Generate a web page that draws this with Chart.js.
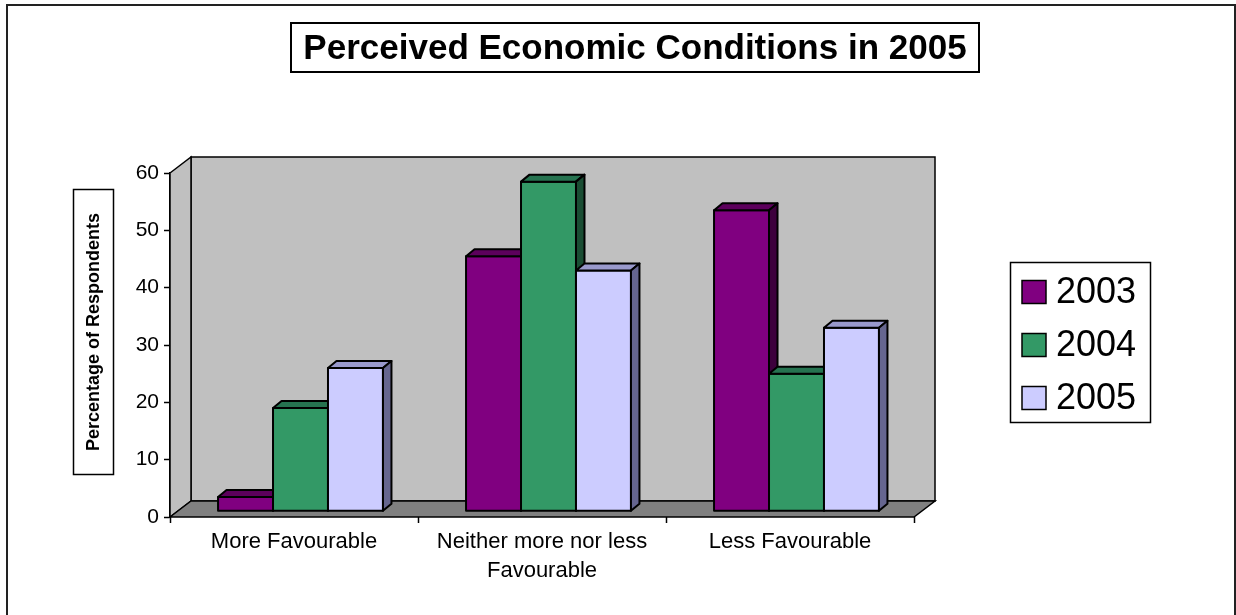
<!DOCTYPE html>
<html>
<head>
<meta charset="utf-8">
<title>Perceived Economic Conditions in 2005</title>
<script src="https://cdn.jsdelivr.net/npm/chart.js@4"></script>
<style>
  body { margin: 0; background: #fff; }
  canvas { display: block; }
</style>
</head>
<body>
<canvas id="myChart" width="1236" height="615"></canvas>
<script>
var categories = ["More Favourable", ["Neither more nor less", "Favourable"], "Less Favourable"];
var years = ["2003", "2004", "2005"];
var values2003 = [2.5, 44.5, 52.5];
var values2004 = [18, 57.5, 24];
var values2005 = [25, 42, 32];
var yTicks = [0, 10, 20, 30, 40, 50, 60];

var chartTitle = "Perceived Economic Conditions in 2005";
var yTitle = "Percentage of Respondents";

// front, top and side colours of each series
var faces = [
  { front: "#800080", top: "#5c005c", side: "#3d003d" },
  { front: "#339966", top: "#267350", side: "#1a4d33" },
  { front: "#ccccff", top: "#9999cc", side: "#666690" }
];

var FONT = "'Liberation Sans', Arial, sans-serif";
// depth of the walls and floor
var WALL_DX = 21, WALL_DY = -16;
// where the bars sit inside that depth
var BAR_OX = 6.5, BAR_OY = -5.7, BAR_DX = 8.5, BAR_DY = -7;

function poly(ctx, pts, fill) {
  ctx.beginPath();
  ctx.moveTo(pts[0][0], pts[0][1]);
  for (var i = 1; i < pts.length; i++) {
    ctx.lineTo(pts[i][0], pts[i][1]);
  }
  ctx.closePath();
  ctx.fillStyle = fill;
  ctx.fill();
  ctx.stroke();
}

var walls = {
  id: "walls",
  beforeDatasetsDraw: function(chart) {
    var ctx = chart.ctx;
    var a = chart.chartArea;
    var y = chart.scales.y;
    var top = y.getPixelForValue(60), bottom = y.getPixelForValue(0);
    ctx.save();
    ctx.strokeStyle = "#000";
    ctx.lineWidth = 1.5;
    // back wall
    poly(ctx, [[a.left + WALL_DX, top + WALL_DY], [a.right + WALL_DX, top + WALL_DY],
      [a.right + WALL_DX, bottom + WALL_DY], [a.left + WALL_DX, bottom + WALL_DY]], "#c0c0c0");
    // side wall
    poly(ctx, [[a.left, top], [a.left + WALL_DX, top + WALL_DY],
      [a.left + WALL_DX, bottom + WALL_DY], [a.left, bottom]], "#c0c0c0");
    // floor
    poly(ctx, [[a.left, bottom], [a.left + WALL_DX, bottom + WALL_DY],
      [a.right + WALL_DX, bottom + WALL_DY], [a.right, bottom]], "#808080");

    // boxes, left to right so neighbours cover the side faces
    ctx.lineWidth = 2;
    ctx.lineJoin = "round";
    var n = chart.data.labels.length;
    for (var i = 0; i < n; i++) {
      for (var d = 0; d < chart.data.datasets.length; d++) {
        var bar = chart.getDatasetMeta(d).data[i];
        var p = bar.getProps(["x", "y", "base", "width"], true);
        var l = p.x - p.width / 2 + BAR_OX, r = p.x + p.width / 2 + BAR_OX;
        var t = p.y + BAR_OY, b = p.base + BAR_OY;
        var f = faces[d];
        poly(ctx, [[l, t], [r, t], [r, b], [l, b]], f.front);
        poly(ctx, [[l, t], [l + BAR_DX, t + BAR_DY], [r + BAR_DX, t + BAR_DY], [r, t]], f.top);
        poly(ctx, [[r, t], [r + BAR_DX, t + BAR_DY], [r + BAR_DX, b + BAR_DY], [r, b]], f.side);
      }
    }
    ctx.restore();
    return false;
  }
};

var frames = {
  id: "frames",
  afterDraw: function(chart) {
    var ctx = chart.ctx;
    ctx.save();
    ctx.strokeStyle = "#222";
    ctx.lineWidth = 2;
    ctx.strokeRect(7, 5, 1228, 620);

    // title box
    ctx.strokeStyle = "#000";
    ctx.lineWidth = 2;
    ctx.strokeRect(291, 23, 688, 49);
    ctx.fillStyle = "#000";
    ctx.font = "bold 35px " + FONT;
    ctx.textAlign = "center";
    ctx.textBaseline = "middle";
    ctx.fillText(chartTitle, 635, 49);

    // axis title box
    ctx.lineWidth = 1.5;
    ctx.strokeRect(73.5, 189.5, 40, 285);
    ctx.save();
    ctx.translate(94, 332);
    ctx.rotate(-Math.PI / 2);
    ctx.font = "bold 18px " + FONT;
    ctx.fillText(yTitle, 0, 0);
    ctx.restore();

    // legend
    ctx.strokeRect(1010.5, 262.5, 140, 160);
    ctx.textAlign = "left";
    ctx.font = "36px " + FONT;
    chart.data.datasets.forEach(function(ds, k) {
      var cy = 292 + k * 53;
      ctx.fillStyle = ds.backgroundColor;
      ctx.fillRect(1022, cy - 11.5, 24, 23);
      ctx.strokeRect(1022, cy - 11.5, 24, 23);
      ctx.fillStyle = "#000";
      ctx.fillText(ds.label, 1056, cy + 1);
    });
    ctx.restore();
  }
};

var ctx = document.getElementById("myChart");
var myChart = new Chart(ctx, {
  type: "bar",
  data: {
    labels: categories,
    datasets: [
      { label: years[0], data: values2003, backgroundColor: faces[0].front },
      { label: years[1], data: values2004, backgroundColor: faces[1].front },
      { label: years[2], data: values2005, backgroundColor: faces[2].front }
    ]
  },
  options: {
    responsive: false,
    animation: false,
    events: [],
    layout: { padding: { left: 0, right: 322, top: 173, bottom: 0 } },
    datasets: { bar: { categoryPercentage: 0.665, barPercentage: 1 } },
    plugins: {
      legend: { display: false },
      title: { display: false },
      tooltip: { enabled: false }
    },
    scales: {
      x: {
        afterFit: function(scale) { scale.height = 98; },
        border: { display: false },
        grid: { drawOnChartArea: false, tickLength: 6, tickColor: "#000", tickWidth: 1.5, offset: true },
        ticks: {
          color: "#000",
          padding: 4,
          maxRotation: 0,
          autoSkip: false,
          font: { family: FONT, size: 22, lineHeight: 1.32 }
        }
      },
      y: {
        min: 0,
        max: 60,
        afterFit: function(scale) { scale.width = 170; },
        afterBuildTicks: function(scale) {
          scale.ticks = yTicks.map(function(v) { return { value: v }; });
        },
        border: { display: true, color: "#000", width: 1.5 },
        grid: { drawOnChartArea: false, tickLength: 6, tickColor: "#000", tickWidth: 1.5 },
        ticks: {
          color: "#000",
          padding: 5,
          font: { family: FONT, size: 21 }
        }
      }
    }
  },
  plugins: [walls, frames]
});
</script>
</body>
</html>
